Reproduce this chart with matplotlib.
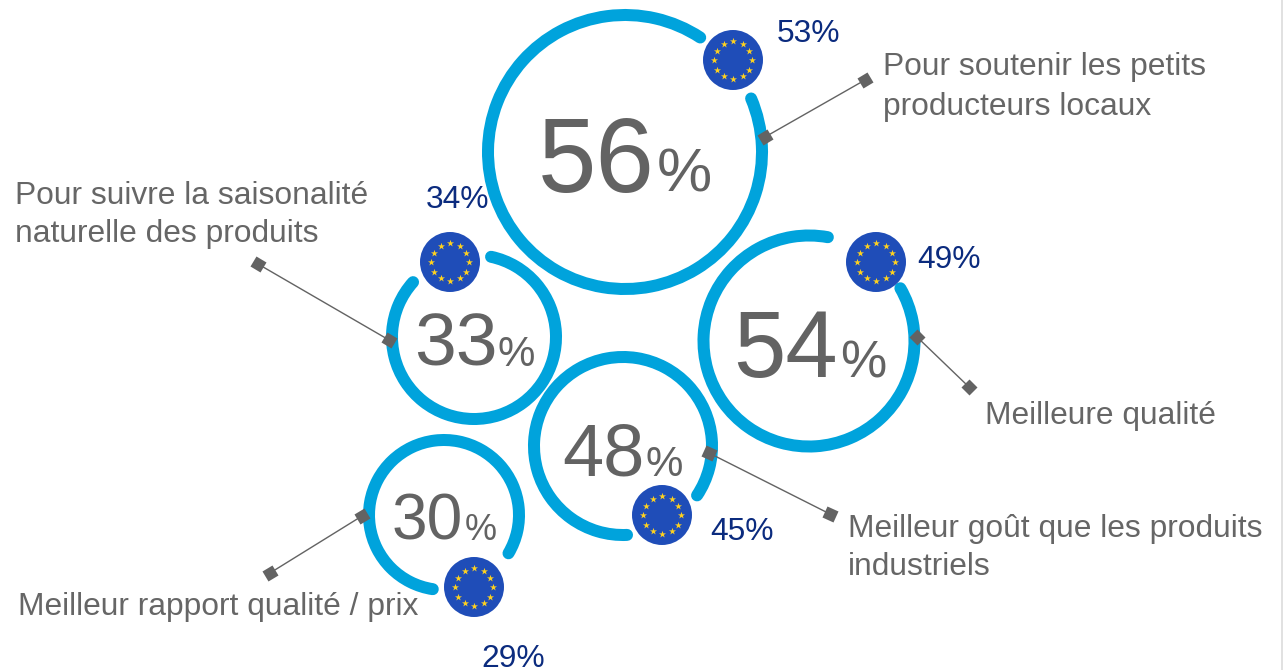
import numpy as np
import matplotlib
matplotlib.use("Agg")
import matplotlib.pyplot as plt
from matplotlib.patches import Arc, Circle
from matplotlib.markers import MarkerStyle
from matplotlib.transforms import Affine2D

plt.rcParams['font.family'] = ['Liberation Sans', 'DejaVu Sans']

# Data
categories = ["Pour soutenir les petits\nproducteurs locaux",
              "Meilleure qualité",
              "Pour suivre la saisonalité\nnaturelle des produits",
              "Meilleur goût que les produits\nindustriels",
              "Meilleur rapport qualité / prix"]
country_values = [56, 54, 33, 48, 30]
eu_values = [53, 49, 34, 45, 29]

# Layout (pixels, origin top-left)
W, H = 1283, 670
centers = [(625, 152), (809, 341), (474, 337), (623, 446), (444, 515)]
radii = [137, 105.5, 82, 89, 75]
widths = [12, 12, 12, 12, 12]
arc_angles = [(56.7, 23), (79.7, 30), (138, 78), (-33.7, -87.4), (-30.7, 261.4)]
flags = [(733, 60), (876, 262), (450, 262), (662, 515), (474, 587)]
num_pos = [(655, 192, 105, 712), (838, 377, 94, 886), (498, 366, 75, 535), (645, 476, 74, 683), (463, 540, 64, 497)]
pct_px = [62, 52, 42, 42, 36]
eu_pos = [(777, 42), (917, 268), (426, 208), (710, 540), (481, 667)]
conn = [((765, 137), (865, 80)), ((917, 337), (969, 387)), ((389, 340), (258, 264)),
        ((709, 453), (830, 514)), ((362, 516), (270, 573))]
label_pos = [(883, 75), (985, 424), (15, 204), (848, 537), (18, 615)]
line_gap = [40, 0, 38, 38, 0]

BLUE = "#00A3DC"; GREY = "#636363"; NAVY = "#0B2B7E"; FLAG = "#1F4DB8"; GOLD = "#FFD21F"
LABEL = "#666666"

fig = plt.figure(figsize=(W / 100, H / 100), dpi=100)
ax = fig.add_axes([0, 0, 1, 1])
ax.set_xlim(0, W); ax.set_ylim(0, H); ax.axis("off")
Y = lambda y: H - y
PT = 72 / 100  # px to pt

ax.plot([1281.5, 1281.5], [0, H], color="#DADADA", lw=1.6 * PT, zorder=0)

for (cx, cy), r, w, (a, b) in zip(centers, radii, widths, arc_angles):
    ax.add_patch(Arc((cx, Y(cy)), 2 * r, 2 * r, theta1=a, theta2=b, color=BLUE,
                     lw=w * PT, capstyle="round", zorder=2))

for (fx, fy) in flags:
    ax.add_patch(Circle((fx, Y(fy)), 30, fc=FLAG, ec="none", zorder=3))
    ang = np.deg2rad(np.arange(0, 360, 30))
    ax.scatter(fx + 19 * np.cos(ang), Y(fy) + 19 * np.sin(ang), marker="*", s=28,
               c=GOLD, linewidths=0, zorder=4)

for (p, q) in conn:
    ax.plot([p[0], q[0]], [Y(p[1]), Y(q[1])], color=GREY, lw=1.4 * PT, zorder=5)
    ang = np.degrees(np.arctan2(Y(q[1]) - Y(p[1]), q[0] - p[0]))
    m = MarkerStyle("s", transform=Affine2D().rotate_deg(ang))
    ax.plot([p[0], q[0]], [Y(p[1]), Y(q[1])], ls="none", marker=m, ms=12 * PT,
            mfc=GREY, mec="none", zorder=6)

for v, (x, y, px, xr), pp in zip(country_values, num_pos, pct_px):
    ax.text(x, Y(y), str(v), ha="right", va="baseline", fontsize=px * PT, color=GREY, zorder=7)
    ax.text(xr, Y(y), "%", ha="right", va="baseline", fontsize=pp * PT, color=GREY, zorder=7)

for v, (x, y) in zip(eu_values, eu_pos):
    ax.text(x, Y(y), f"{v}%", ha="left", va="baseline", fontsize=31.8 * PT, color=NAVY, zorder=7)

for t, (x, y), g in zip(categories, label_pos, line_gap):
    for i, ln in enumerate(t.split("\n")):
        ax.text(x, Y(y + i * g), ln, ha="left", va="baseline", fontsize=31.8 * PT,
                color=LABEL, zorder=7)

fig.savefig("out.png", dpi=100)
